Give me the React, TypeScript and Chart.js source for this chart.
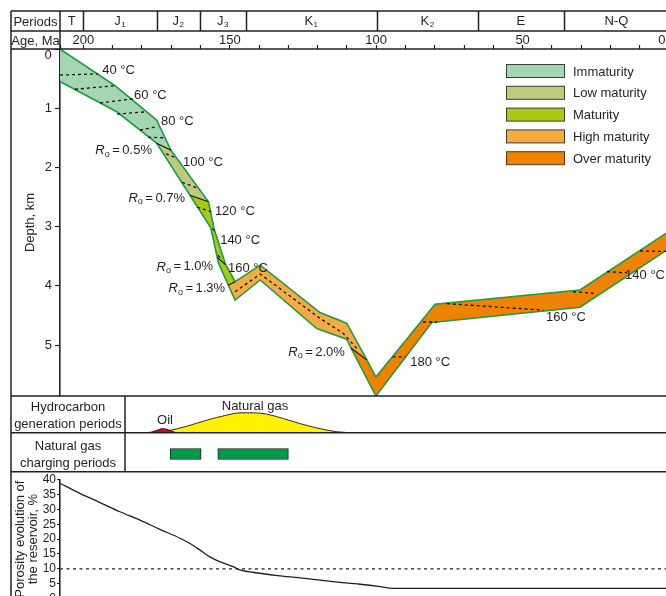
import React, { useEffect, useRef } from 'react';
import { Chart, registerables } from 'chart.js';

Chart.register(...registerables);

const FONT = "'Liberation Sans', Arial, Helvetica, sans-serif";
const INK = '#231f20';

// ---------- time axis (Ma) ----------
const AGE_MAX = 208;
const AGE_MIN = 0;
const ageTickStep = 10;
const ageLabelStep = 50;
const periodNames = ['T', 'J', 'J', 'J', 'K', 'K', 'E', 'N-Q'];
const periodSubs = ['', '1', '2', '3', '1', '2', '', ''];
const periodBounds = [208, 200, 175, 160.2, 144.6, 99.8, 65.3, 35.9, 0];

// ---------- burial history (age Ma, depth km) ----------
const DEPTH_MAX = 5.86;
const topAge = [208.0, 189.2, 175.0, 170.1, 157.3, 155.4, 151.6, 148.2, 139.6, 119.2, 110.1, 103.2, 100.1, 79.9, 30.4, 0];
const topDepth = [0.0, 0.62, 1.2, 1.71, 2.58, 3.03, 3.62, 3.93, 3.65, 4.45, 4.63, 5.25, 5.54, 4.31, 4.07, 3.08];
const baseAge = [208.0, 188.6, 175.0, 163.6, 156.5, 153.9, 150.5, 148.2, 139.6, 120.3, 110.1, 108.6, 100.1, 81.0, 30.4, 0];
const baseDepth = [0.55, 1.06, 1.59, 2.47, 3.02, 3.61, 3.99, 4.24, 3.9, 4.72, 4.9, 5.05, 5.86, 4.62, 4.36, 3.37];

// maturity zones: split by index on top / base lines
const zoneNames = ['Immaturity', 'Low maturity', 'Maturity', 'High maturity', 'Over maturity'];
const zoneColors = ['#a4d6b1', '#bfca7c', '#a9c915', '#f5ab44', '#ef8300'];
const zoneTopIdx = [0, 3, 4, 7, 11, 15];
const zoneBaseIdx = [0, 2, 3, 6, 11, 15];

// isotherms (dotted)
const isoAge = [
  [208.0, 195.0], [202.9, 188.9], [194.3, 182.7], [188.5, 178.3], [180.7, 174.9],
  [177.9, 171.8], [171.8, 168.4], [166.3, 160.5], [161.1, 156.3], [156.1, 154.7],
  [154.0, 153.0], [148.2, 139.6, 119.2, 111.3, 106.2], [94.4, 90.0], [84.0, 79.2],
  [75.9, 42.9], [32.8, 24.6], [21.2, 14.3], [9.9, 0],
];
const isoDepth = [
  [0.44, 0.42], [0.68, 0.62], [0.91, 0.84], [1.1, 1.06], [1.37, 1.31],
  [1.49, 1.5], [1.77, 1.84], [2.25, 2.36], [2.67, 2.75], [3.04, 3.07],
  [3.48, 3.55], [4.1, 3.8, 4.55, 4.8, 5.08], [5.2, 5.2], [4.61, 4.61],
  [4.3, 4.41], [4.1, 4.13], [3.76, 3.78], [3.41, 3.42],
];

// vitrinite reflectance lines (solid)
const roAge = [[175.0, 170.1], [163.6, 157.3], [154.3, 151.5], [150.5, 148.2], [108.6, 103.2]];
const roDepth = [[1.59, 1.71], [2.47, 2.58], [3.52, 3.64], [3.99, 3.93], [5.05, 5.25]];

// labels
const tempLabels = ['40 °C', '60 °C', '80 °C', '100 °C', '120 °C', '140 °C', '160 °C', '180 °C', '160 °C', '140 °C'];
const tempLabelAge = [193.6, 182.7, 173.5, 166.0, 155.1, 153.3, 150.6, 88.4, 42.0, 15.0];
const tempLabelDepth = [0.37, 0.78, 1.22, 1.91, 2.75, 3.23, 3.7, 5.3, 4.54, 3.83];
const roLabels = ['0.5%', '0.7%', '1.0%', '1.3%', '2.0%'];
const roLabelAge = [176.6, 165.3, 155.7, 151.6, 110.7];
const roLabelDepth = [1.72, 2.52, 3.68, 4.05, 5.12];

// ---------- hydrocarbon generation ----------
const gasAge = [178.4, 171.5, 164.7, 157.9, 151.1, 146.5, 142.0, 137.4, 131.7, 126.0, 119.2, 113.5, 107.2];
const gasLevel = [0, 0.54, 1.83, 3.46, 4.82, 5.45, 5.45, 5.1, 3.9, 2.53, 1.17, 0.35, 0];
const oilAge = [179.0, 176.7, 174.4, 173.1, 171.5, 169.8, 168.1];
const oilLevel = [0, 0.27, 0.9, 1.18, 1.0, 0.46, 0];

// ---------- natural gas charging ----------
const chargeFrom = [170.4, 154.1];
const chargeTo = [159.8, 130.0];

// ---------- porosity ----------
const porAge = [208.0, 201.2, 194.3, 187.5, 180.7, 173.9, 167.0, 163.6, 160.2, 156.8, 153.3, 148.9, 146.5, 139.7, 132.9, 123.6, 114.8, 105.5, 98.7, 94.3, 0];
const porValue = [38.8, 35.4, 32.3, 29.2, 26.4, 23.3, 20.3, 18.5, 16.3, 14.0, 12.3, 10.7, 9.6, 8.5, 7.6, 6.7, 5.7, 4.8, 4.0, 3.4, 3.4];
const porLimit = 10;

// ---------- helpers ----------
const pts = (xs: number[], ys: number[]) => xs.map((x, i) => ({ x, y: ys[i] }));

function zonePolygon(k: number) {
  const out: any[] = [];
  for (let i = zoneTopIdx[k]; i <= zoneTopIdx[k + 1]; i++) out.push({ x: topAge[i], y: topDepth[i] });
  for (let i = zoneBaseIdx[k + 1]; i >= zoneBaseIdx[k]; i--) out.push({ x: baseAge[i], y: baseDepth[i] });
  return out;
}

function segmented(xs: number[][], ys: number[][]) {
  const out: any[] = [];
  xs.forEach((row, j) => {
    row.forEach((x, i) => out.push({ x, y: ys[j][i] }));
    out.push({ x: row[row.length - 1], y: null });
  });
  return out;
}

const ageAxisTicks = () => {
  const t: any[] = [];
  for (let v = AGE_MIN; v <= 200; v += ageTickStep) t.push({ value: v });
  t.push({ value: AGE_MAX });
  return t;
};

function drawRo(ctx: CanvasRenderingContext2D, value: string, xr: number, yc: number) {
  const parts: [string, string, number, number][] = [
    ['R', `italic 13px ${FONT}`, 0, 0],
    ['o', `9px ${FONT}`, 3.5, 2.5],
    ['=', `13px ${FONT}`, 0, 2.5],
    [value, `13px ${FONT}`, 0, 0],
  ];
  let total = 0;
  const widths = parts.map((p) => {
    ctx.font = p[1];
    const w = ctx.measureText(p[0]).width;
    total += w + p[3];
    return w;
  });
  let x = xr - total;
  ctx.textAlign = 'left';
  ctx.textBaseline = 'middle';
  parts.forEach((p, i) => {
    ctx.font = p[1];
    ctx.fillText(p[0], x, yc + p[2]);
    x += widths[i] + p[3];
  });
}

function drawSub(ctx: CanvasRenderingContext2D, main: string, sub: string, cx: number, cy: number) {
  ctx.font = `13px ${FONT}`;
  const w1 = ctx.measureText(main).width;
  ctx.font = `8px ${FONT}`;
  const w2 = sub ? ctx.measureText(sub).width + 0.5 : 0;
  const x0 = cx - (w1 + w2) / 2;
  ctx.textAlign = 'left';
  ctx.textBaseline = 'middle';
  ctx.font = `13px ${FONT}`;
  ctx.fillText(main, x0, cy);
  if (sub) {
    ctx.font = `8px ${FONT}`;
    ctx.fillText(sub, x0 + w1 + 0.5, cy + 4);
  }
}

const burialPlugin = {
  id: 'burialLabels',
  afterDatasetsDraw(chart: any) {
    const { ctx } = chart;
    const x = chart.scales.x;
    const y = chart.scales.y;
    ctx.save();
    ctx.fillStyle = INK;
    ctx.textBaseline = 'middle';
    tempLabels.forEach((t, i) => {
      ctx.font = `13px ${FONT}`;
      ctx.textAlign = 'left';
      ctx.fillText(t, x.getPixelForValue(tempLabelAge[i]), y.getPixelForValue(tempLabelDepth[i]));
    });
    roLabels.forEach((v, i) => {
      drawRo(ctx, v, x.getPixelForValue(roLabelAge[i]), y.getPixelForValue(roLabelDepth[i]));
    });
    ctx.restore();
  },
  afterDraw(chart: any) {
    const { ctx } = chart;
    const x = chart.scales.x;
    ctx.save();
    ctx.strokeStyle = INK;
    ctx.lineWidth = 1.5;
    ctx.fillStyle = INK;
    for (let i = 0; i < periodNames.length; i++) {
      const x0 = x.getPixelForValue(periodBounds[i]);
      const x1 = x.getPixelForValue(periodBounds[i + 1]);
      if (i < periodNames.length - 1) {
        ctx.beginPath();
        ctx.moveTo(Math.round(x1) + 0.5, 11);
        ctx.lineTo(Math.round(x1) + 0.5, 31);
        ctx.stroke();
      }
      drawSub(ctx, periodNames[i], periodSubs[i], (x0 + x1) / 2, 21);
    }
    ctx.restore();
  },
};

const baseOpts = {
  responsive: false,
  animation: false as const,
  devicePixelRatio: 1,
  plugins: { legend: { display: false }, tooltip: { enabled: false } },
  elements: { point: { radius: 0 }, line: { tension: 0 } },
};

const hiddenAgeAxis = { type: 'linear', min: AGE_MIN, max: AGE_MAX, reverse: true, display: false };

export default function App() {
  const mainRef = useRef<HTMLCanvasElement>(null);
  const genRef = useRef<HTMLCanvasElement>(null);
  const chargeRef = useRef<HTMLCanvasElement>(null);
  const porRef = useRef<HTMLCanvasElement>(null);

  useEffect(() => {
    Chart.defaults.font.family = FONT;
    Chart.defaults.color = INK;
    const charts: Chart[] = [];

    const zoneSets = zoneNames.map((n, k) => ({
      label: n,
      data: zonePolygon(k),
      backgroundColor: zoneColors[k],
      borderColor: zoneColors[k],
      borderWidth: 0.6,
      fill: 'shape',
      pointRadius: 0,
      order: 5,
    }));

    charts.push(
      new Chart(mainRef.current as HTMLCanvasElement, {
        type: 'line',
        data: {
          datasets: [
            ...zoneSets,
            { label: 'top', data: pts(topAge, topDepth), borderColor: '#1f9c47', borderWidth: 1.6, fill: false, pointRadius: 0, order: 3 },
            { label: 'base', data: pts(baseAge, baseDepth), borderColor: '#1f9c47', borderWidth: 1.6, fill: false, pointRadius: 0, order: 3 },
            { label: 'iso', data: segmented(isoAge, isoDepth), borderColor: '#111', borderWidth: 1.3, borderDash: [3, 3], fill: false, pointRadius: 0, spanGaps: false, order: 1 },
            { label: 'ro', data: segmented(roAge, roDepth), borderColor: '#111', borderWidth: 1.1, fill: false, pointRadius: 0, spanGaps: false, order: 1 },
          ] as any,
        },
        options: {
          ...baseOpts,
          layout: { padding: { left: 11, top: 0, right: 0, bottom: 0 } },
          scales: {
            x: {
              type: 'linear',
              position: 'top',
              min: AGE_MIN,
              max: AGE_MAX,
              reverse: true,
              afterBuildTicks: (s: any) => { s.ticks = ageAxisTicks(); },
              ticks: {
                autoSkip: false,
                maxRotation: 0,
                align: 'inner',
                padding: -1.5,
                font: { size: 13, lineHeight: 1 },
                color: INK,
                callback: (v: any) => (v === 0 ? '0 ' : v % ageLabelStep === 0 && v <= 200 ? String(v) : ''),
              },
              grid: { drawOnChartArea: false, drawTicks: true, tickLength: 4, tickColor: INK, tickWidth: 1.2 },
              border: { display: false },
              afterFit: (s: any) => { s.height = 49; s.paddingLeft = 0; s.paddingRight = 0; },
            },
            y: {
              type: 'linear',
              min: 0,
              max: DEPTH_MAX,
              reverse: true,
              ticks: {
                stepSize: 1,
                includeBounds: false,
                autoSkip: false,
                padding: 3,
                font: { size: 13 },
                color: INK,
                callback: (v: any) => (v === 0 ? '' : String(v)),
              },
              grid: { drawOnChartArea: false, tickLength: 5, tickColor: INK, tickWidth: 1.2 },
              border: { display: true, color: INK, width: 1.6 },
              title: { display: true, text: 'Depth, km', font: { size: 13 }, color: INK, padding: { top: 12, bottom: 0 } },
              afterFit: (s: any) => { s.width = 49; s.paddingTop = 0; s.paddingBottom = 0; },
            },
          },
        } as any,
        plugins: [burialPlugin],
      })
    );

    charts.push(
      new Chart(genRef.current as HTMLCanvasElement, {
        type: 'line',
        data: {
          datasets: [
            { label: 'Oil', data: pts(oilAge, oilLevel), borderColor: '#2a1a1a', borderWidth: 1, backgroundColor: '#e4001d', fill: 'origin', cubicInterpolationMode: 'monotone', pointRadius: 0, order: 1 },
            { label: 'Natural gas', data: pts(gasAge, gasLevel), borderColor: '#2a2a2a', borderWidth: 1, backgroundColor: '#fff100', fill: 'origin', cubicInterpolationMode: 'monotone', pointRadius: 0, order: 2 },
          ] as any,
        },
        options: {
          ...baseOpts,
          layout: { padding: { left: 60, top: 0, right: 0, bottom: 0 } },
          scales: { x: hiddenAgeAxis, y: { min: 0, max: 10, display: false } },
        } as any,
      })
    );

    charts.push(
      new Chart(chargeRef.current as HTMLCanvasElement, {
        type: 'bar',
        data: {
          labels: ['charging'],
          datasets: chargeFrom.map((f, i) => ({
            label: 'charge ' + (i + 1),
            data: [[chargeTo[i], f]],
            backgroundColor: '#00994c',
            borderColor: '#1c1c1c',
            borderWidth: 1,
            borderSkipped: false,
            barThickness: 11,
            grouped: false,
          })) as any,
        },
        options: {
          ...baseOpts,
          indexAxis: 'y',
          layout: { padding: { left: 60, top: 3, right: 0, bottom: 0 } },
          scales: { x: hiddenAgeAxis, y: { display: false } },
        } as any,
      })
    );

    charts.push(
      new Chart(porRef.current as HTMLCanvasElement, {
        type: 'line',
        data: {
          datasets: [
            { label: 'porosity', data: pts(porAge, porValue), borderColor: INK, borderWidth: 1.3, fill: false, cubicInterpolationMode: 'monotone', pointRadius: 0 },
            { label: 'limit', data: [{ x: AGE_MAX, y: porLimit }, { x: AGE_MIN, y: porLimit }], borderColor: INK, borderWidth: 1.3, borderDash: [3, 3.5], fill: false, pointRadius: 0 },
          ] as any,
        },
        options: {
          ...baseOpts,
          layout: { padding: { left: 11, top: 7.7, right: 0, bottom: 1.5 } },
          scales: {
            x: hiddenAgeAxis,
            y: {
              type: 'linear',
              min: 0,
              max: 40,
              ticks: { stepSize: 5, includeBounds: false, autoSkip: false, padding: 1, font: { size: 12 }, color: INK },
              grid: { drawOnChartArea: false, tickLength: 3, tickColor: INK, tickWidth: 1.2 },
              border: { display: true, color: INK, width: 1.6 },
              title: {
                display: true,
                text: ['Porosity evolution of', 'the reservoir, %'],
                font: { size: 13, lineHeight: 1 },
                color: INK,
                padding: { top: 3.2, bottom: 0 },
              },
              afterFit: (s: any) => { s.width = 49; s.paddingTop = 0; s.paddingBottom = 0; },
            },
          },
        } as any,
      })
    );

    return () => charts.forEach((c) => c.destroy());
  }, []);

  const abs = (left: number, top: number) => ({ position: 'absolute' as const, left, top });

  return (
    <div style={{ position: 'fixed', left: 0, top: 0, width: 666, height: 596, overflow: 'hidden', background: '#fff' }}>
      <canvas ref={mainRef} width={669} height={396} style={abs(0, 0)} />
      <canvas ref={genRef} width={669} height={37} style={abs(0, 396)} />
      <canvas ref={chargeRef} width={669} height={39} style={abs(0, 433)} />
      <canvas ref={porRef} width={669} height={128} style={abs(0, 472)} />
      <svg width={666} height={596} style={{ position: 'absolute', left: 0, top: 0 }} fontFamily={FONT}>
        <g stroke={INK} strokeWidth={1.5} fill="none">
          <line x1={11} y1={11} x2={666} y2={11} />
          <line x1={11} y1={31} x2={666} y2={31} />
          <line x1={11} y1={49} x2={666} y2={49} />
          <line x1={11} y1={11} x2={11} y2={596} />
          <line x1={60} y1={11} x2={60} y2={49} />
          <line x1={11} y1={396} x2={666} y2={396} />
          <line x1={11} y1={432.7} x2={666} y2={432.7} />
          <line x1={11} y1={471.7} x2={666} y2={471.7} />
          <line x1={125} y1={396} x2={125} y2={471.7} />
        </g>
        <g fill={INK} fontSize={13} textAnchor="middle" dominantBaseline="central">
          <text x={35.5} y={21}>Periods</text>
          <text x={35.5} y={40}>Age, Ma</text>
          <text x={48} y={54}>0</text>
          <text x={68} y={406}>Hydrocarbon</text>
          <text x={68} y={423.5}>generation periods</text>
          <text x={68} y={445}>Natural gas</text>
          <text x={68} y={462}>charging periods</text>
          <text x={165} y={419}>Oil</text>
          <text x={255} y={405}>Natural gas</text>
        </g>
        <g fontSize={13} fill={INK}>
          {zoneNames.map((n, i) => (
            <g key={n}>
              <rect x={506.5} y={64.5 + i * 21.8} width={58} height={13} fill={zoneColors[i]} stroke="#3c3c3c" strokeWidth={1} />
              <text x={573} y={71 + i * 21.8} dominantBaseline="central">{n}</text>
            </g>
          ))}
        </g>
      </svg>
    </div>
  );
}
